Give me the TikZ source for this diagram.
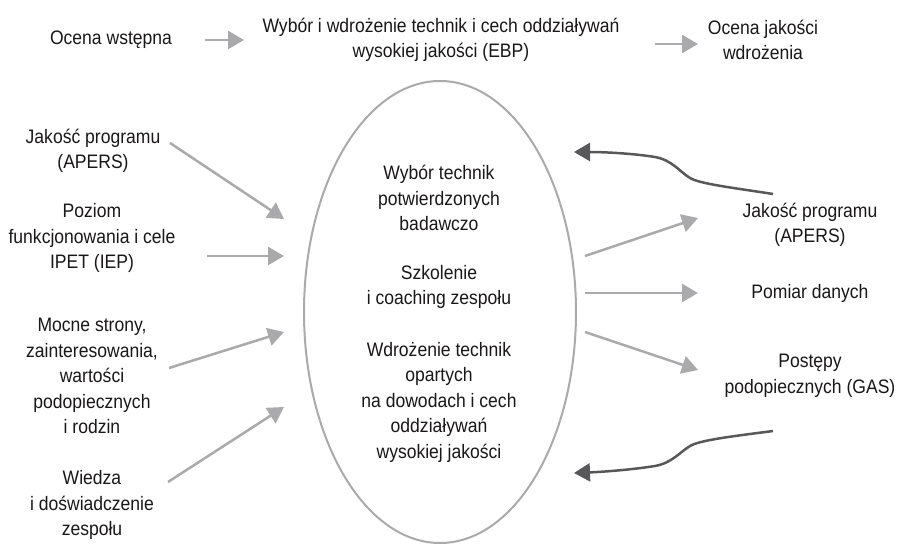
\documentclass[tikz,border=0pt]{standalone}
\usepackage{fontspec}
\setmainfont[FakeStretch=0.9]{Liberation Sans}
\usetikzlibrary{arrows.meta,shapes.geometric}
\definecolor{lightg}{HTML}{AAAAAC}
\definecolor{darkg}{HTML}{58585A}
\definecolor{txt}{HTML}{1A1718}
\begin{document}
\begin{tikzpicture}[x=1pt,y=-1pt,
  lbl/.style={align=center, text=txt, font=\fontsize{19.5}{25.5}\selectfont, inner sep=0pt},
  garrow/.style={draw=lightg, line width=2.5pt, -{Triangle[length=16pt,width=18pt]}},
  darrow/.style={draw=darkg, line width=2.5pt, -{Triangle[length=16pt,width=18pt]}}]
\useasboundingbox[fill=white] (0,0) rectangle (898,545);

% ellipse
\node[draw=lightg, line width=2pt, ellipse, minimum width=272pt, minimum height=462pt, inner sep=0pt] (ell) at (440,312) {};

% top row
\node[lbl] (a) at (111,40) {Ocena wstępna};
\node[lbl] (b) at (441,40) {Wybór i wdrożenie technik i cech oddziaływań\\wysokiej jakości (EBP)};
\node[lbl] (c) at (763,40) {Ocena jakości\\wdrożenia};
\coordinate (ab1) at (205,40);
\coordinate (ab2) at (244,40);
\coordinate (bc1) at (655,44);
\coordinate (bc2) at (698,44);
\draw[garrow] (ab1) -- (ab2);
\draw[garrow] (bc1) -- (bc2);

% ellipse texts
\node[lbl] (e1) at (439,198) {Wybór technik\\potwierdzonych\\badawczo};
\node[lbl] (e2) at (439,287) {Szkolenie\\i coaching zespołu};
\node[lbl] (e3) at (439,402) {Wdrożenie technik\\opartych\\na dowodach i cech\\oddziaływań\\wysokiej jakości};

% left inputs
\node[lbl] (l1) at (93,151) {Jakość programu\\(APERS)};
\node[lbl] (l2) at (92,238) {Poziom\\funkcjonowania i cele\\IPET (IEP)};
\node[lbl] (l3) at (92,376) {Mocne strony,\\zainteresowania,\\wartości\\podopiecznych\\i rodzin};
\node[lbl] (l4) at (92,505) {Wiedza\\i doświadczenie\\zespołu};

\coordinate (l1s) at (170,143);  \coordinate (l1e) at (284,219);
\coordinate (l2s) at (207,256);  \coordinate (l2e) at (284,256);
\coordinate (l3s) at (169,368);  \coordinate (l3e) at (284,332);
\coordinate (l4s) at (168,482);  \coordinate (l4e) at (284,407);
\draw[garrow] (l1s) -- (l1e);
\draw[garrow] (l2s) -- (l2e);
\draw[garrow] (l3s) -- (l3e);
\draw[garrow] (l4s) -- (l4e);

% right outputs
\node[lbl] (r1) at (810,225) {Jakość programu\\(APERS)};
\node[lbl] (r2) at (810,293) {Pomiar danych};
\node[lbl] (r3) at (810,376) {Postępy\\podopiecznych (GAS)};

\coordinate (r1s) at (585,256);  \coordinate (r1e) at (698,218);
\coordinate (r2s) at (585,293);  \coordinate (r2e) at (698,293);
\coordinate (r3s) at (585,332);  \coordinate (r3e) at (698,370);
\draw[garrow] (r1s) -- (r1e);
\draw[garrow] (r2s) -- (r2e);
\draw[garrow] (r3s) -- (r3e);

% feedback arrows
\coordinate (f1s) at (773,194);  \coordinate (f1e) at (574,152);
\coordinate (f2s) at (773,431);  \coordinate (f2e) at (574,473);
\draw[darrow] (f1s) .. controls (735,188) and (700,184) .. (690,178)
  .. controls (680,172) and (672,160) .. (655,157)
  .. controls (630,153) and (600,152) .. (f1e);
\draw[darrow] (f2s) .. controls (735,436) and (700,440) .. (690,446)
  .. controls (680,452) and (672,463) .. (655,466)
  .. controls (630,470) and (600,472) .. (f2e);
\end{tikzpicture}
\end{document}
